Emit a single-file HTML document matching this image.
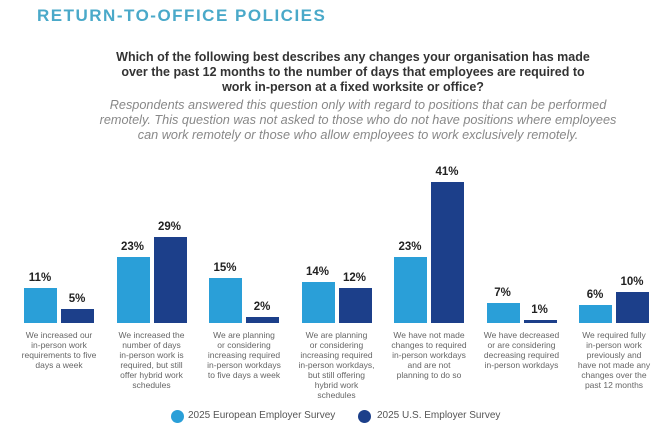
<!DOCTYPE html>
<html><head><meta charset="utf-8"><style>
body{margin:0;width:670px;height:430px;background:#fff;font-family:"Liberation Sans",sans-serif;position:relative;overflow:hidden}
.t{position:absolute;left:37px;top:6px;font-size:17px;font-weight:bold;color:#4aa9c9;letter-spacing:1.5px}
.q{position:absolute;left:13px;width:680px;text-align:center;top:50px;font-size:12.5px;font-weight:bold;color:#333;line-height:15px}
.s{position:absolute;left:18px;width:680px;text-align:center;top:98px;font-size:12.7px;font-style:italic;color:#888;line-height:15px}
.b{position:absolute;width:33px}
.l{background:#2a9fd8}.d{background:#1c3f8a}
.p{position:absolute;width:40px;text-align:center;font-size:11.5px;font-weight:bold;color:#222}
.c{position:absolute;top:330px;width:90px;text-align:center;font-size:8.5px;color:#666;line-height:10px}
.lg{position:absolute;top:410px;font-size:10px;color:#555}
.dot{position:absolute;top:410px;width:13px;height:13px;border-radius:50%}
</style></head><body>
<div class="t">RETURN-TO-OFFICE POLICIES</div>
<div class="q">Which of the following best describes any changes your organisation has made<br>over the past 12 months to the number of days that employees are required to<br>work in-person at a fixed worksite or office?</div>
<div class="s">Respondents answered this question only with regard to positions that can be performed<br>remotely. This question was not asked to those who do not have positions where employees<br>can work remotely or those who allow employees to work exclusively remotely.</div>
<div id="g"></div>
<script>
var d=[[11,35,5,14,"We increased our<br>in-person work<br>requirements to five<br>days a week"],
[23,66,29,86,"We increased the<br>number of days<br>in-person work is<br>required, but still<br>offer hybrid work<br>schedules"],
[15,45,2,6,"We are planning<br>or considering<br>increasing required<br>in-person workdays<br>to five days a week"],
[14,41,12,35,"We are planning<br>or considering<br>increasing required<br>in-person workdays,<br>but still offering<br>hybrid work<br>schedules"],
[23,66,41,141,"We have not made<br>changes to required<br>in-person workdays<br>and are not<br>planning to do so"],
[7,20,1,3,"We have decreased<br>or are considering<br>decreasing required<br>in-person workdays"],
[6,18,10,31,"We required fully<br>in-person work<br>previously and<br>have not made any<br>changes over the<br>past 12 months"]];
var h="",B=323;
d.forEach(function(r,i){var x=24+92.5*i;
h+='<div class="b l" style="left:'+x+'px;top:'+(B-r[1])+'px;height:'+r[1]+'px"></div>';
h+='<div class="b d" style="left:'+(x+37)+'px;top:'+(B-r[3])+'px;height:'+r[3]+'px"></div>';
h+='<div class="p" style="left:'+(x-4)+'px;top:'+(B-r[1]-16)+'px">'+r[0]+'%</div>';
h+='<div class="p" style="left:'+(x+33)+'px;top:'+(B-r[3]-16)+'px">'+r[2]+'%</div>';
h+='<div class="c" style="left:'+(x-10)+'px">'+r[4]+'</div>';});
document.getElementById("g").innerHTML=h;
</script>
<div class="dot l" style="left:171px"></div><div class="lg" style="left:188px">2025 European Employer Survey</div>
<div class="dot d" style="left:358px"></div><div class="lg" style="left:377px">2025 U.S. Employer Survey</div>
</body></html>
